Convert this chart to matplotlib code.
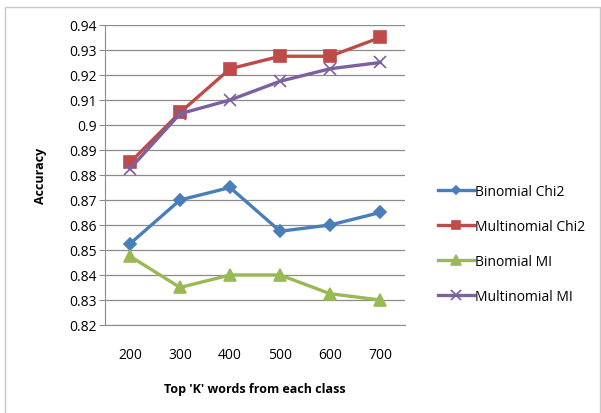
import matplotlib
matplotlib.use("Agg")
import matplotlib.pyplot as plt
from matplotlib.patches import Rectangle

# Accuracy of each classifier vs. number of top words kept per class
top_k = ["200", "300", "400", "500", "600", "700"]
binomial_chi2 = [0.8525, 0.870, 0.875, 0.8575, 0.860, 0.865]
multinomial_chi2 = [0.885, 0.905, 0.9225, 0.9275, 0.9275, 0.935]
binomial_mi = [0.8475, 0.835, 0.840, 0.840, 0.8325, 0.830]
multinomial_mi = [0.8825, 0.9045, 0.910, 0.9175, 0.9225, 0.925]
y_ticks = [0.82, 0.83, 0.84, 0.85, 0.86, 0.87, 0.88, 0.89, 0.9, 0.91, 0.92, 0.93, 0.94]
y_tick_labels = ["0.82", "0.83", "0.84", "0.85", "0.86", "0.87", "0.88", "0.89", "0.9",
                 "0.91", "0.92", "0.93", "0.94"]

plt.rcParams['font.family'] = ['Open Sans', 'DejaVu Sans']

fig = plt.figure(figsize=(6.01, 4.14), dpi=100)
ax = fig.add_axes([0.1747, 0.2126, 0.4995, 0.7246])

# light frame around the whole chart
fig.patches.append(Rectangle((0.008, -0.01), 0.99, 0.99, transform=fig.transFigure,
                             fill=False, edgecolor="#c8c8c8", linewidth=1.0))

x = list(range(len(top_k)))
series = [
    ("Binomial Chi2", binomial_chi2, "#4a7ebb", "D", 6),
    ("Multinomial Chi2", multinomial_chi2, "#be4b48", "s", 8),
    ("Binomial MI", binomial_mi, "#98b954", "^", 9),
    ("Multinomial MI", multinomial_mi, "#7d60a0", "x", 9),
]
for name, vals, color, marker, ms in series:
    ax.plot(x, vals, color=color, linewidth=2.4, marker=marker, markersize=ms,
            markeredgecolor=color, markerfacecolor=color, markeredgewidth=1.2,
            label=name)

ax.set_xlim(-0.5, len(top_k) - 0.5)
ax.set_ylim(0.82, 0.94)
ax.set_yticks(y_ticks)
ax.set_yticklabels(y_tick_labels)
ax.set_xticks(x)
ax.set_xticklabels(top_k)
ax.grid(axis="y", color="#8c8c8c", linewidth=0.9)
ax.set_axisbelow(True)

for side in ["top", "right"]:
    ax.spines[side].set_visible(False)
ax.spines["left"].set_color("#8c8c8c")
ax.spines["bottom"].set_color("#8c8c8c")
ax.tick_params(axis="y", length=4, color="#8c8c8c", labelsize=10, pad=2)
ax.tick_params(axis="x", length=0, labelsize=10, pad=16)

ax.set_xlabel("Top 'K' words from each class", fontsize=9, fontweight="bold", labelpad=14)
ax.set_ylabel("Accuracy", fontsize=9, fontweight="bold", labelpad=16)

ax.legend(loc="center left", bbox_to_anchor=(1.09, 0.27), frameon=False, fontsize=10,
          handlelength=2.6, handletextpad=0.1, labelspacing=1.45, borderaxespad=0,
          markerscale=0.75)

fig.savefig("out.png", dpi=100)
